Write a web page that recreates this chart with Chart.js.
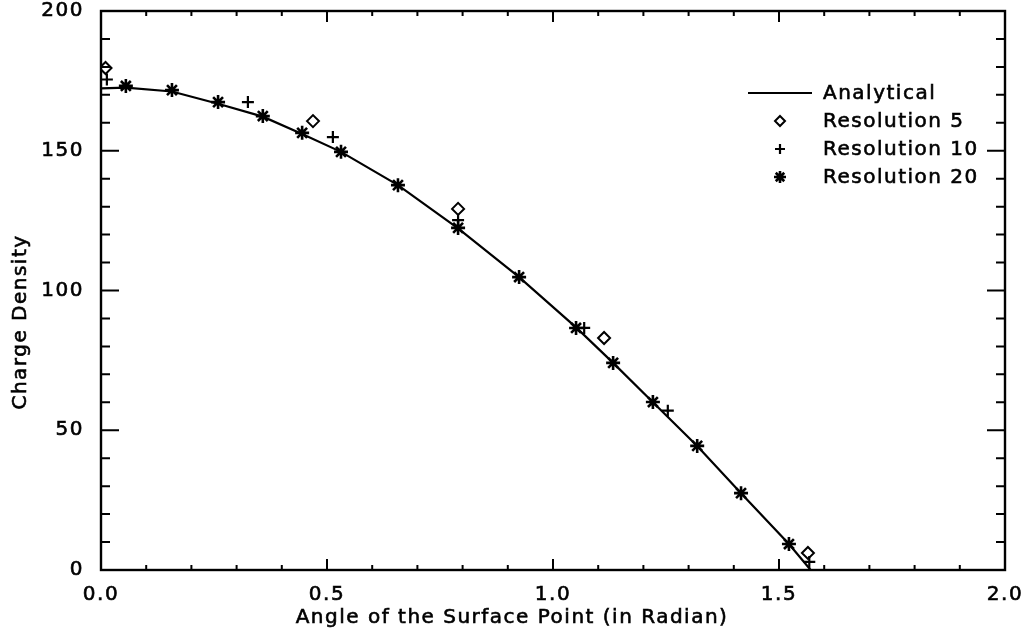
<!DOCTYPE html>
<html>
<head>
<meta charset="utf-8">
<script src="https://cdn.jsdelivr.net/npm/chart.js@4/dist/chart.umd.min.js"></script>
<style>
html,body{margin:0;padding:0;background:#fff;}
#wrap{width:1024px;height:633px;}
</style>
</head>
<body>
<div id="wrap"><canvas id="c" width="1024" height="633"></canvas></div>
<script>
// ---------- data ----------
const seriesNames = ['Analytical', 'Resolution 5', 'Resolution 10', 'Resolution 20'];

const analyticalAngle   = [0.000, 0.055, 0.157, 0.259, 0.358, 0.445, 0.531, 0.657, 0.790, 0.925, 1.051, 1.133, 1.221, 1.319, 1.416, 1.522, 1.570];
const analyticalDensity = [172.3, 172.6, 171.2, 166.8, 162.2, 156.0, 149.6, 137.7, 122.2, 104.8, 86.8, 74.1, 60.0, 44.4, 27.5, 9.3, 0.0];

const res5Angle   = [0.010, 0.469, 0.790, 1.113, 1.564];
const res5Density = [179.6, 160.6, 129.2, 83.0, 6.1];

const res10Angle   = [0.013, 0.325, 0.513, 0.790, 1.069, 1.254, 1.567];
const res10Density = [175.5, 167.4, 154.9, 125.2, 86.6, 57.0, 2.9];

const res20Angle   = [0.055, 0.157, 0.259, 0.358, 0.445, 0.531, 0.657, 0.790, 0.925, 1.051, 1.133, 1.221, 1.319, 1.416, 1.522];
const res20Density = [173.2, 171.7, 167.4, 162.4, 156.4, 149.6, 137.7, 122.4, 104.8, 86.6, 74.1, 60.1, 44.4, 27.5, 9.3];

const xTickValues = [0, 0.5, 1.0, 1.5, 2.0];
const xTickLabels = ['0.0', '0.5', '1.0', '1.5', '2.0'];
const yTickValues = [0, 50, 100, 150, 200];
const yTickLabels = ['0', '50', '100', '150', '200'];
const xMinorStep = 0.1;
const yMinorStep = 10;

const xTitle = 'Angle of the Surface Point (in Radian)';
const yTitle = 'Charge Density';

// ---------- helpers ----------
const toPoints = (xs, ys) => xs.map((x, i) => ({x: x, y: ys[i]}));
const FONT = {family: '"DejaVu Sans", sans-serif', size: 20};
const FONT_CSS = FONT.size + 'px ' + FONT.family;
const LETTER_SPACING = '1.5px';
const TEXT_STROKE = 0.6;

function boldText(ctx, text, x, y) {
  ctx.fillText(text, x, y);
  ctx.lineWidth = TEXT_STROKE;
  ctx.strokeText(text, x, y);
}

// inward ticks on all four sides + frame, IDL style
const framePlugin = {
  id: 'idlFrame',
  beforeDraw(chart) {
    chart.ctx.letterSpacing = LETTER_SPACING;
  },
  afterDatasetsDraw(chart) {
    const {ctx, chartArea: a, scales: {x, y}} = chart;
    ctx.save();
    ctx.strokeStyle = '#000';
    ctx.lineWidth = 2.4;
    ctx.strokeRect(a.left, a.top, a.right - a.left, a.bottom - a.top);
    ctx.lineWidth = 2;
    const xMajorLen = 11, xMinorLen = 5, yMajorLen = 18, yMinorLen = 9;
    ctx.beginPath();
    const nx = Math.round((x.max - x.min) / xMinorStep);
    for (let i = 0; i <= nx; i++) {
      const v = x.min + i * xMinorStep;
      const px = x.getPixelForValue(v);
      const major = xTickValues.some(t => Math.abs(t - v) < 1e-6);
      const len = major ? xMajorLen : xMinorLen;
      ctx.moveTo(px, a.bottom); ctx.lineTo(px, a.bottom - len);
      ctx.moveTo(px, a.top); ctx.lineTo(px, a.top + len);
    }
    const ny = Math.round((y.max - y.min) / yMinorStep);
    for (let i = 0; i <= ny; i++) {
      const v = y.min + i * yMinorStep;
      const py = y.getPixelForValue(v);
      const major = yTickValues.some(t => Math.abs(t - v) < 1e-6);
      const len = major ? yMajorLen : yMinorLen;
      ctx.moveTo(a.left, py); ctx.lineTo(a.left + len, py);
      ctx.moveTo(a.right, py); ctx.lineTo(a.right - len, py);
    }
    ctx.stroke();
    ctx.restore();
  }
};

// axis titles, centred on the page as in the IDL original
const titlePlugin = {
  id: 'pageTitles',
  afterDraw(chart) {
    const ctx = chart.ctx;
    ctx.save();
    ctx.letterSpacing = LETTER_SPACING;
    ctx.font = FONT_CSS;
    ctx.fillStyle = '#000';
    ctx.strokeStyle = '#000';
    ctx.textAlign = 'center';
    ctx.textBaseline = 'middle';
    boldText(ctx, xTitle, chart.width / 2, 618);
    ctx.translate(21, 322);
    ctx.rotate(-Math.PI / 2);
    boldText(ctx, yTitle, 0, 0);
    ctx.restore();
  }
};

function drawMarker(ctx, style, r, x, y) {
  ctx.beginPath();
  if (style === 'rectRot') {
    ctx.moveTo(x, y - r); ctx.lineTo(x + r, y); ctx.lineTo(x, y + r); ctx.lineTo(x - r, y); ctx.closePath();
  } else if (style === 'cross') {
    ctx.moveTo(x - r, y); ctx.lineTo(x + r, y); ctx.moveTo(x, y - r); ctx.lineTo(x, y + r);
  } else if (style === 'star') {
    const d = r * Math.SQRT1_2;
    ctx.moveTo(x - r, y); ctx.lineTo(x + r, y); ctx.moveTo(x, y - r); ctx.lineTo(x, y + r);
    ctx.moveTo(x - d, y - d); ctx.lineTo(x + d, y + d); ctx.moveTo(x - d, y + d); ctx.lineTo(x + d, y - d);
  }
  ctx.stroke();
}

const legendPlugin = {
  id: 'insetLegend',
  afterDraw(chart) {
    const ctx = chart.ctx;
    ctx.save();
    ctx.letterSpacing = LETTER_SPACING;
    ctx.font = FONT_CSS;
    ctx.fillStyle = '#000';
    ctx.strokeStyle = '#000';
    ctx.textAlign = 'left';
    ctx.textBaseline = 'middle';
    const rowY = [93, 121, 149, 177];
    const lineX0 = 748, lineX1 = 812, markX = 780, textX = 823;
    chart.data.datasets.forEach((ds, i) => {
      const yy = rowY[i];
      ctx.lineWidth = 2.2;
      if (ds.showLine) {
        ctx.beginPath(); ctx.moveTo(lineX0, yy); ctx.lineTo(lineX1, yy); ctx.stroke();
      } else {
        ctx.lineWidth = ds.borderWidth;
        drawMarker(ctx, ds.pointStyle, ds.pointRadius - 1, markX, yy);
      }
      boldText(ctx, ds.label, textX, yy + 1);
    });
    ctx.restore();
  }
};

const tickStyle = {
  autoSkip: false, color: '#000', font: FONT,
  textStrokeColor: '#000', textStrokeWidth: TEXT_STROKE
};

const chart = new Chart(document.getElementById('c').getContext('2d'), {
  type: 'scatter',
  data: {
    datasets: [
      {
        label: seriesNames[0],
        data: toPoints(analyticalAngle, analyticalDensity),
        showLine: true, borderColor: '#000', borderWidth: 2.2, pointRadius: 0, tension: 0, order: 4
      },
      {
        label: seriesNames[1],
        data: toPoints(res5Angle, res5Density),
        pointStyle: 'rectRot', pointRadius: 6, borderWidth: 2,
        borderColor: '#000', backgroundColor: 'rgba(0,0,0,0)', order: 3
      },
      {
        label: seriesNames[2],
        data: toPoints(res10Angle, res10Density),
        pointStyle: 'cross', pointRadius: 6, borderWidth: 2.2,
        borderColor: '#000', backgroundColor: '#000', order: 2
      },
      {
        label: seriesNames[3],
        data: toPoints(res20Angle, res20Density),
        pointStyle: 'star', pointRadius: 7, borderWidth: 2.6,
        borderColor: '#000', backgroundColor: '#000', order: 1
      }
    ]
  },
  options: {
    responsive: false,
    animation: false,
    devicePixelRatio: 1,
    events: [],
    layout: {padding: {left: 0, top: 11, right: 19, bottom: 0}},
    plugins: {legend: {display: false}, tooltip: {enabled: false}, title: {display: false}},
    scales: {
      x: {
        type: 'linear', position: 'bottom', min: 0, max: 2,
        afterBuildTicks: s => { s.ticks = xTickValues.map(v => ({value: v})); },
        afterFit: s => { s.height = 63; s.paddingLeft = 0; s.paddingRight = 0; },
        grid: {display: false},
        border: {display: false},
        ticks: Object.assign({maxRotation: 0, padding: 5, callback: (v, i) => xTickLabels[i]}, tickStyle),
        title: {display: false, text: xTitle}
      },
      y: {
        type: 'linear', position: 'left', min: 0, max: 200,
        afterBuildTicks: s => { s.ticks = yTickValues.map(v => ({value: v})); },
        afterFit: s => { s.width = 101; s.paddingTop = 0; s.paddingBottom = 0; },
        grid: {display: false},
        border: {display: false},
        ticks: Object.assign({padding: 9, callback: (v, i) => yTickLabels[i]}, tickStyle),
        title: {display: false, text: yTitle}
      }
    }
  },
  plugins: [framePlugin, legendPlugin, titlePlugin]
});
</script>
</body>
</html>
